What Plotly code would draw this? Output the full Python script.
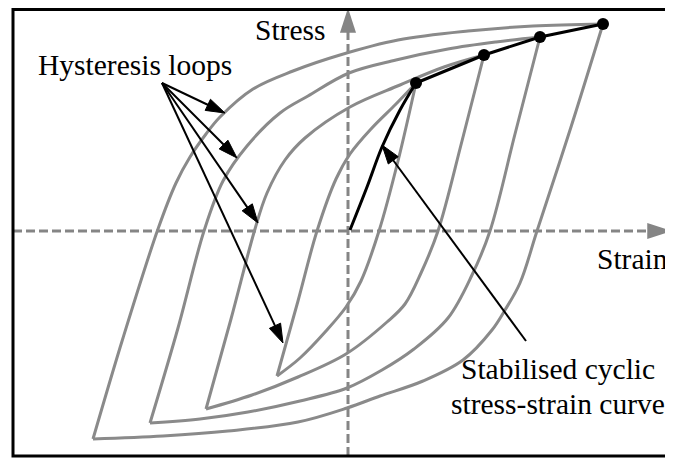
import plotly.graph_objects as go

# ---- data (strain, stress in arbitrary units; origin at axis crossing) ----
# loop tips (top-right) = points of the stabilised cyclic curve
tip_strain = [68, 136, 192, 255]
tip_stress = [148, 176, 194, 207]

# hysteresis loops: ascending (loading) and descending (unloading) branches
loop1_up_strain = [-71, -50, -31, -12, 2, 23, 48, 68]
loop1_up_stress = [-145, -70, 0, 52, 77, 102, 127, 148]
loop1_dn_strain = [68, 50, 31, 13, -2, -22, -48, -71]
loop1_dn_stress = [148, 70, 0, -50, -76, -100, -127, -145]

loop2_up_strain = [-142, -117, -93, -81, -63, -43, 2, 52, 96, 136]
loop2_up_stress = [-178, -88, 2, 38, 71, 93, 124, 146, 164, 176]
loop2_dn_strain = [136, 114, 90, 73, 57, 39, -2, -50, -96, -142]
loop2_dn_stress = [176, 90, 0, -42, -73, -91, -123, -146, -164, -178]

loop3_up_strain = [-198, -170, -144, -125, -101, -68, -40, 1, 48, 100, 148, 192]
loop3_up_stress = [-192, -97, 0, 50, 85, 118, 135, 158, 171, 182, 189, 194]
loop3_dn_strain = [192, 167, 142, 124, 100, 66, 34, -1, -48, -100, -148, -198]
loop3_dn_stress = [194, 97, 0, -44, -87, -118, -139, -157, -170, -181, -188, -192]

loop4_up_strain = [-255, -225, -190, -172, -158, -142, -128, -95, -55, -8, 50, 120, 185, 255]
loop4_up_stress = [-208, -107, 2, 48, 74, 97, 114, 142, 160, 176, 191, 200, 205, 207]
loop4_dn_strain = [255, 223, 189, 172, 157, 144, 115, 75, 32, -1, -50, -120, -185, -255]
loop4_dn_stress = [207, 104, 0, -52, -79, -99, -129, -150, -165, -177, -191, -200, -205, -208]

# initial part of the stabilised cyclic curve (origin to first tip)
stab_strain = [2, 19, 34, 52, 68]
stab_stress = [1, 44, 84, 121, 148]

# label arrows: start and end points
hyst_from = (-186, 148)
hyst_to = [(-123, 118), (-111, 73), (-90, 8), (-65, -112)]
stab_from = (178, -110)
stab_to = (34, 86)

# axes extents
x_axis_from, x_axis_to = -335, 324
y_axis_from, y_axis_to = -225, 223

GREY = "#8a8a8a"
AXGREY = "#858585"
FONT = "Liberation Serif"

fig = go.Figure()

# dashed axes with arrow heads
for xs, ys in [([x_axis_from, x_axis_to], [0, 0]), ([0, 0], [y_axis_from, y_axis_to])]:
    fig.add_trace(go.Scatter(
        x=xs, y=ys, mode="lines+markers",
        line=dict(color=AXGREY, width=3, dash="9px,4px"),
        marker=dict(symbol="arrow", angleref="previous", size=[0, 26], color=AXGREY,
                    opacity=1, line=dict(width=0)),
        hoverinfo="skip"))

# hysteresis loops
branches = [
    (loop1_up_strain, loop1_up_stress), (loop1_dn_strain, loop1_dn_stress),
    (loop2_up_strain, loop2_up_stress), (loop2_dn_strain, loop2_dn_stress),
    (loop3_up_strain, loop3_up_stress), (loop3_dn_strain, loop3_dn_stress),
    (loop4_up_strain, loop4_up_stress), (loop4_dn_strain, loop4_dn_stress),
]
for xs, ys in branches:
    fig.add_trace(go.Scatter(x=xs, y=ys, mode="lines",
                             line=dict(color=GREY, width=3, shape="spline", smoothing=1),
                             hoverinfo="skip"))

# stabilised cyclic stress-strain curve
fig.add_trace(go.Scatter(x=stab_strain, y=stab_stress, mode="lines",
                         line=dict(color="black", width=3, shape="spline"),
                         hoverinfo="skip"))
fig.add_trace(go.Scatter(x=tip_strain, y=tip_stress, mode="lines+markers",
                         line=dict(color="black", width=3),
                         marker=dict(color="black", size=12),
                         hoverinfo="skip"))

# label arrows
arrows = [(hyst_from, t) for t in hyst_to] + [(stab_from, stab_to)]
for (fx, fy), (tx, ty) in arrows:
    fig.add_trace(go.Scatter(
        x=[fx, tx], y=[fy, ty], mode="lines+markers",
        line=dict(color="black", width=2),
        marker=dict(symbol="arrow", angleref="previous", size=[0, 20], color="black",
                    opacity=1, line=dict(color="black", width=1)),
        hoverinfo="skip"))

# texts
labels = [
    ("Stress", -58, 201),
    ("Hysteresis loops", -213, 166.5),
    ("Strain", 284, -28),
    ("Stabilised cyclic", 210, -138),
    ("stress-strain curve", 210, -172.5),
]
for txt, x, y in labels:
    fig.add_annotation(x=x, y=y, text=txt, showarrow=False, xanchor="center",
                       yanchor="middle", font=dict(family=FONT, size=29.5, color="black"))

# frame (right edge lies outside the picture)
fig.add_shape(type="rect", xref="x", yref="y", x0=-335, x1=345, y0=-225, y1=221.5,
              line=dict(color="black", width=3), fillcolor="rgba(0,0,0,0)")

# the page body has an 8px margin, so the data window is offset by 8px
fig.update_xaxes(range=[-340, 333], visible=False)
fig.update_yaxes(range=[-235, 223], visible=False)
fig.update_layout(width=673, height=458, margin=dict(l=0, r=0, t=0, b=0),
                  autosize=False, showlegend=False,
                  plot_bgcolor="white", paper_bgcolor="white")

fig.write_html("out.html")
